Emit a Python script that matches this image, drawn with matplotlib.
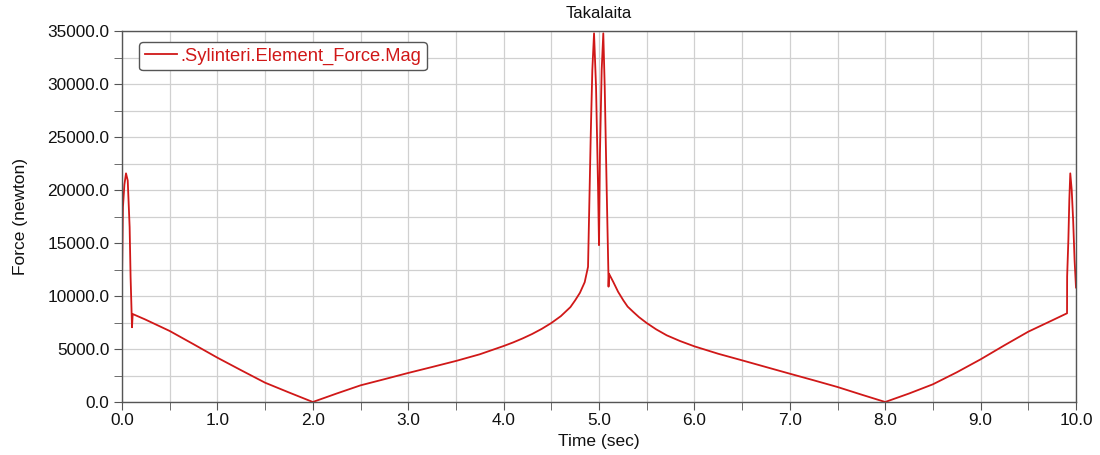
import matplotlib
matplotlib.use("Agg")
import matplotlib.pyplot as plt
from matplotlib.ticker import MultipleLocator, FormatStrFormatter

plt.rcParams['font.family'] = ['Liberation Sans', 'DejaVu Sans']

time_sec = [0.0, 0.001, 0.01, 0.025, 0.042, 0.06, 0.08, 0.09, 0.105, 0.112, 0.24,
            0.5, 0.75, 1.0, 1.25, 1.5, 1.75, 2.0, 2.25, 2.5, 2.75, 3.0, 3.25, 3.5,
            3.75, 4.0, 4.1, 4.2, 4.3, 4.4, 4.5, 4.6, 4.7, 4.75, 4.8, 4.85, 4.885,
            4.913, 4.93, 4.948, 4.969, 4.99, 5.0, 5.01, 5.028, 5.045, 5.06, 5.08,
            5.098, 5.1, 5.105, 5.15, 5.2, 5.255, 5.3, 5.36, 5.42, 5.5, 5.6, 5.71,
            5.85, 6.0, 6.25, 6.5, 6.75, 7.0, 7.25, 7.5, 7.75, 8.0, 8.25, 8.5, 8.75,
            9.0, 9.25, 9.5, 9.75, 9.906, 9.907, 9.92, 9.93, 9.94, 9.955, 9.97,
            9.985, 10.0]
force_newton = [0, 12200, 18400, 20500, 21570, 20900, 16500, 11800, 7050, 8300, 7800,
                6700, 5450, 4180, 2990, 1820, 900, 0, 800, 1570, 2150, 2740, 3300, 3870,
                4500, 5280, 5620, 6000, 6420, 6900, 7450, 8100, 8950, 9590, 10300, 11300,
                12750, 25000, 31300, 34780, 29700, 20300, 14800, 23460, 31300, 34780,
                29700, 20300, 12400, 10880, 12100, 11320, 10400, 9590, 9000, 8490, 8000,
                7450, 6850, 6290, 5750, 5250, 4550, 3930, 3300, 2670, 2050, 1415, 700,
                0, 800, 1670, 2800, 4025, 5350, 6635, 7700, 8370, 11820, 15280, 19060,
                21570, 20000, 17170, 13400, 10800]

series_label = ".Sylinteri.Element_Force.Mag"
title = "Takalaita"
xlabel = "Time (sec)"
ylabel = "Force (newton)"

line_color = "#d01818"

fig = plt.figure(figsize=(11, 4.55), dpi=100)
ax = fig.add_axes([122/1100, 1 - 402/455, (1076 - 122)/1100, (402 - 31)/455])

ax.plot(time_sec, force_newton, color=line_color, lw=1.3, label=series_label)

ax.set_xlim(0, 10)
ax.set_ylim(0, 35000)
ax.xaxis.set_major_locator(MultipleLocator(1.0))
ax.xaxis.set_minor_locator(MultipleLocator(0.5))
ax.yaxis.set_major_locator(MultipleLocator(5000))
ax.yaxis.set_minor_locator(MultipleLocator(2500))
ax.xaxis.set_major_formatter(FormatStrFormatter('%.1f'))
ax.yaxis.set_major_formatter(FormatStrFormatter('%.1f'))

ax.grid(True, which='both', color='#d0d0d0', lw=0.9)
ax.set_axisbelow(True)

for s in ax.spines.values():
    s.set_color('#555555')
    s.set_linewidth(1.0)

ax.tick_params(which='both', direction='out', length=6, color='#555555',
               labelsize=12.4, labelcolor='#111111')
ax.tick_params(axis='x', which='major', pad=2)
ax.tick_params(axis='y', which='major', pad=3)

ax.set_title(title, fontsize=12, pad=9.5, color='#111111')
ax.set_xlabel(xlabel, fontsize=12.5, labelpad=4.5, color='#111111')
ax.set_ylabel(ylabel, fontsize=12.5, labelpad=14, color='#111111')

leg = ax.legend(loc='upper left', bbox_to_anchor=(17/954, 360/371), fontsize=13.2,
                frameon=True, fancybox=True, edgecolor='#555555', facecolor='white',
                framealpha=1.0, handlelength=1.75, handletextpad=0.2,
                borderpad=0.3, borderaxespad=0)
for txt in leg.get_texts():
    txt.set_color(line_color)

fig.savefig("out.png", dpi=100)
